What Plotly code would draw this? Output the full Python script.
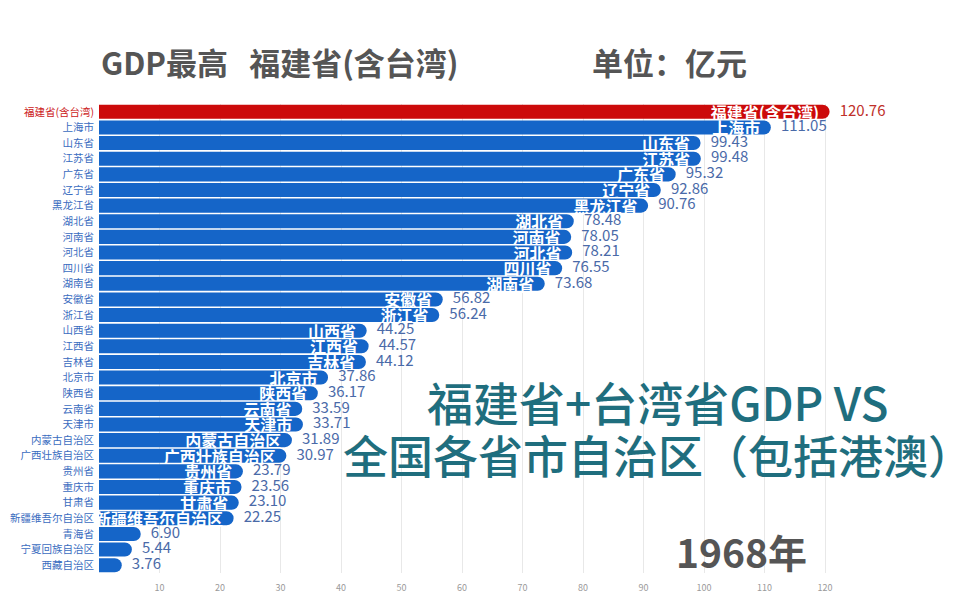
import plotly.graph_objects as go

provinces = ["福建省(含台湾)", "上海市", "山东省", "江苏省", "广东省", "辽宁省", "黑龙江省",
             "湖北省", "河南省", "河北省", "四川省", "湖南省", "安徽省", "浙江省", "山西省",
             "江西省", "吉林省", "北京市", "陕西省", "云南省", "天津市", "内蒙古自治区",
             "广西壮族自治区", "贵州省", "重庆市", "甘肃省", "新疆维吾尔自治区", "青海省",
             "宁夏回族自治区", "西藏自治区"]
gdp = [120.76, 111.05, 99.43, 99.48, 95.32, 92.86, 90.76, 78.48, 78.05, 78.21, 76.55, 73.68,
       56.82, 56.24, 44.25, 44.57, 44.12, 37.86, 36.17, 33.59, 33.71, 31.89, 30.97, 23.79,
       23.56, 23.10, 22.25, 6.90, 5.44, 3.76]
x_ticks = [10, 20, 30, 40, 50, 60, 70, 80, 90, 100, 110, 120]
year = "1968年"
highlight = "福建省(含台湾)"

RED = "#cc0a0a"
BLUE = "#1565c8"
VAL_BLUE = "#4a6aa8"
FONT = "Noto Sans CJK SC"

bar_colors = [RED if p == highlight else BLUE for p in provinces]
val_colors = ["#c0302a" if p == highlight else VAL_BLUE for p in provinces]
inside_names = [p + " " if v > 10 else "" for p, v in zip(provinces, gdp)]
tick_text = [f'<span style="color:#cc2020">{p}</span>' if p == highlight else p for p in provinces]

fig = go.Figure()
fig.add_trace(go.Bar(
    x=gdp, y=provinces, orientation="h",
    marker=dict(color=bar_colors, cornerradius=7, line=dict(width=0)),
    text=inside_names, textposition="inside", insidetextanchor="end",
    constraintext="none", cliponaxis=False,
    textfont=dict(family=FONT, size=16, color="white", weight="bold"),
    hoverinfo="skip",
))
fig.add_trace(go.Scatter(
    x=gdp, y=provinces, mode="text",
    text=[f"   {v:.2f}" for v in gdp], textposition="middle right",
    textfont=dict(family=FONT, size=15, color=val_colors),
    cliponaxis=False, hoverinfo="skip",
))

fig.update_layout(
    width=964, height=599,
    margin=dict(l=91, r=26, t=96, b=34, autoexpand=False),
    paper_bgcolor="white", plot_bgcolor="white",
    showlegend=False, bargap=0.1,
    uniformtext=dict(minsize=16, mode="show"),
    font=dict(family=FONT),
    xaxis=dict(range=[0, 140], tickvals=x_ticks, showgrid=True, gridcolor="#e8e8e8",
               zeroline=False, showline=False, ticks="", automargin=False,
               ticklabelstandoff=8,
               tickfont=dict(family="Liberation Sans Narrow, " + FONT, size=9, color="#9a9a9a")),
    yaxis=dict(type="category", categoryorder="array", categoryarray=provinces,
               range=[len(provinces) - 0.5, -0.5], autorange=False,
               tickvals=provinces, ticktext=tick_text, showgrid=False, zeroline=False,
               ticks="", ticklabelstandoff=4, automargin=False,
               tickfont=dict(family=FONT, size=10.5, color="#3a6cc0")),
)

fig.add_annotation(xref="paper", yref="paper", x=0.0, y=1.0, yshift=43, xanchor="left", yanchor="middle",
                   text="GDP最高&nbsp;&nbsp;&nbsp;福建省(含台湾)", showarrow=False,
                   font=dict(family=FONT, size=31, color="#555555", weight="bold"))
fig.add_annotation(xref="paper", yref="paper", x=0.580, y=1.0, yshift=43, xanchor="left", yanchor="middle",
                   text="单位：亿元", showarrow=False,
                   font=dict(family=FONT, size=31, color="#555555", weight="bold"))
fig.add_annotation(xref="paper", yref="paper", x=0.660, y=0.3675, xanchor="center", yanchor="middle",
                   text="福建省+台湾省GDP VS", showarrow=False,
                   font=dict(family=FONT, size=46, color="#1f6e7e", weight=500))
fig.add_annotation(xref="paper", yref="paper", x=0.660, y=0.2516, xanchor="center", yanchor="middle",
                   text="全国各省市自治区（包括港澳）", showarrow=False,
                   font=dict(family=FONT, size=45, color="#1f6e7e", weight=500))
fig.add_annotation(xref="paper", yref="paper", x=0.758, y=0.047, xanchor="center", yanchor="middle",
                   text=year, showarrow=False,
                   font=dict(family=FONT, size=39, color="#555555", weight="bold"))

fig.write_html("out.html")
